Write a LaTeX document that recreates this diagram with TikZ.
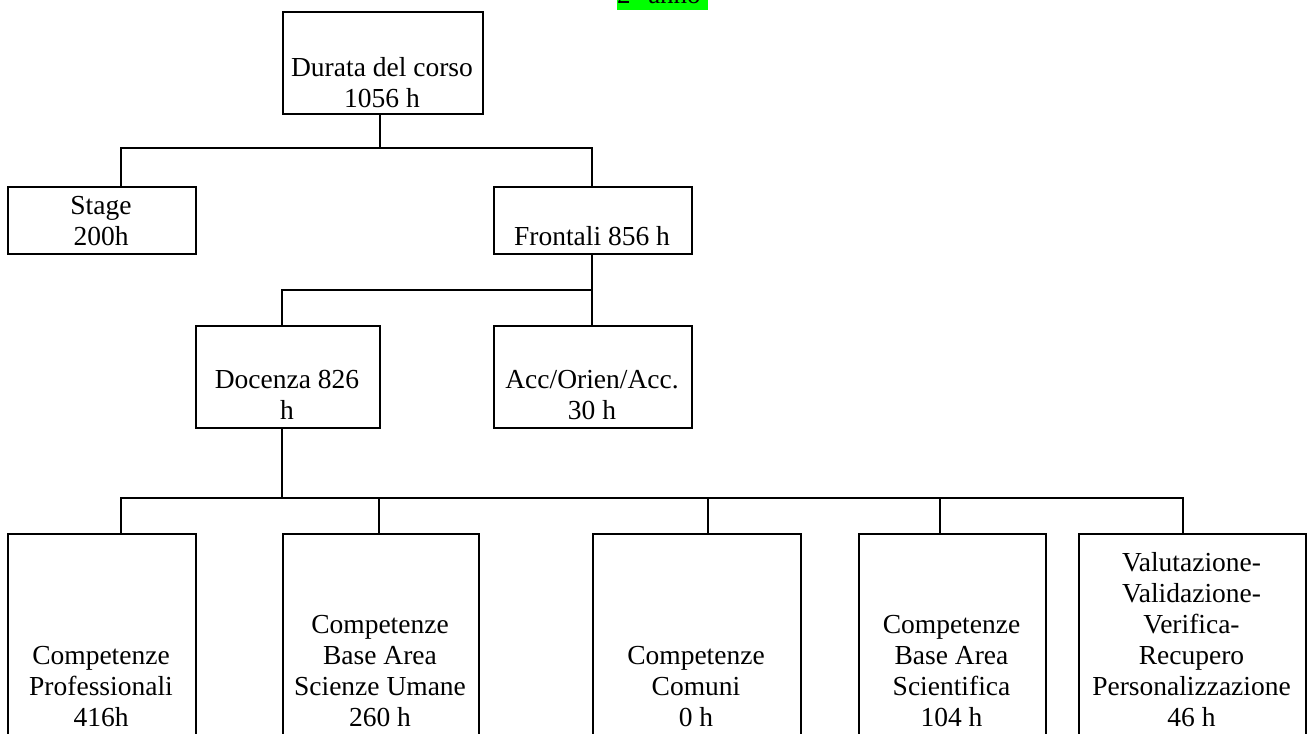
\documentclass[tikz,border=0pt]{standalone}
\usepackage{fontspec}
\setmainfont{Liberation Serif}
\begin{document}
\begin{tikzpicture}[x=1pt,y=-1pt,
  box/.style={draw, line width=1.9pt, anchor=north west, inner sep=0pt},
  txt/.style={inner sep=0pt, align=center, anchor=south, text depth=0pt, font=\fontsize{27.5}{31}\selectfont},
  conn/.style={line width=1.9pt}]
\useasboundingbox (0,0) rectangle (1308,733);
% year label
\fill[green] (617,-20) rectangle (708,10);
\node[inner sep=0pt, anchor=base west, font=\fontsize{27}{31}\selectfont] (year) at (617,4) {2° anno};
% boxes
\node[box, minimum width=200pt, minimum height=102pt] (top) at (282,11) {};
\node[box, minimum width=188pt, minimum height=67pt] (stage) at (7,186) {};
\node[box, minimum width=198pt, minimum height=67pt] (front) at (493,186) {};
\node[box, minimum width=184pt, minimum height=102pt] (doc) at (195,325) {};
\node[box, minimum width=198pt, minimum height=102pt] (acc) at (493,325) {};
\node[box, minimum width=188pt, minimum height=230pt] (b1) at (7,533) {};
\node[box, minimum width=196pt, minimum height=230pt] (b2) at (282,533) {};
\node[box, minimum width=208pt, minimum height=230pt] (b3) at (592,533) {};
\node[box, minimum width=187pt, minimum height=230pt] (b4) at (858,533) {};
\node[box, minimum width=227pt, minimum height=230pt] (b5) at (1078,533) {};
% texts
\node[txt] (ttop) at (382,108) {Durata del corso\\1056 h};
\node[txt] (tstage) at (101,246) {Stage\\200h};
\node[txt] (tfront) at (592,246) {Frontali 856 h};
\node[txt] (tdoc) at (287,420) {Docenza 826\\h};
\node[txt] (tacc) at (592,420) {Acc/Orien/Acc.\\30 h};
\node[txt] (tb1) at (101,727) {Competenze\\Professionali\\416h};
\node[txt] (tb2) at (380,727) {Competenze\\Base Area\\Scienze Umane\\260 h};
\node[txt] (tb3) at (696,727) {Competenze\\Comuni\\0 h};
\node[txt] (tb4) at (951.5,727) {Competenze\\Base Area\\Scientifica\\104 h};
\node[txt] (tb5) at (1191.5,727) {Valutazione-\\Validazione-\\Verifica-\\Recupero\\Personalizzazione\\46 h};
% connector coordinates
\coordinate (bus1) at (0,148);
\coordinate (bus2) at (0,290);
\coordinate (bus3) at (0,498);
\coordinate (xtop) at (380,0);
\coordinate (xst) at (121,0);
\coordinate (xfr) at (592,0);
\coordinate (xdoc) at (282,0);
\coordinate (x1) at (121,0);
\coordinate (x2) at (379,0);
\coordinate (x3) at (708,0);
\coordinate (x4) at (940,0);
\coordinate (x5) at (1183,0);
% level 1
\draw[conn] (xtop |- top.south) -- (xtop |- bus1);
\draw[conn] (xst |- stage.north) -- (xst |- bus1) -- (xfr |- bus1) -- (xfr |- front.north);
% level 2
\draw[conn] (xfr |- front.south) -- (xfr |- bus2);
\draw[conn] (xdoc |- doc.north) -- (xdoc |- bus2) -- (xfr |- bus2) -- (xfr |- acc.north);
% level 3
\draw[conn] (xdoc |- doc.south) -- (xdoc |- bus3);
\draw[conn] (x1 |- b1.north) -- (x1 |- bus3) -- (x5 |- bus3) -- (x5 |- b5.north);
\draw[conn] (x2 |- bus3) -- (x2 |- b2.north);
\draw[conn] (x3 |- bus3) -- (x3 |- b3.north);
\draw[conn] (x4 |- bus3) -- (x4 |- b4.north);
\end{tikzpicture}
\end{document}
